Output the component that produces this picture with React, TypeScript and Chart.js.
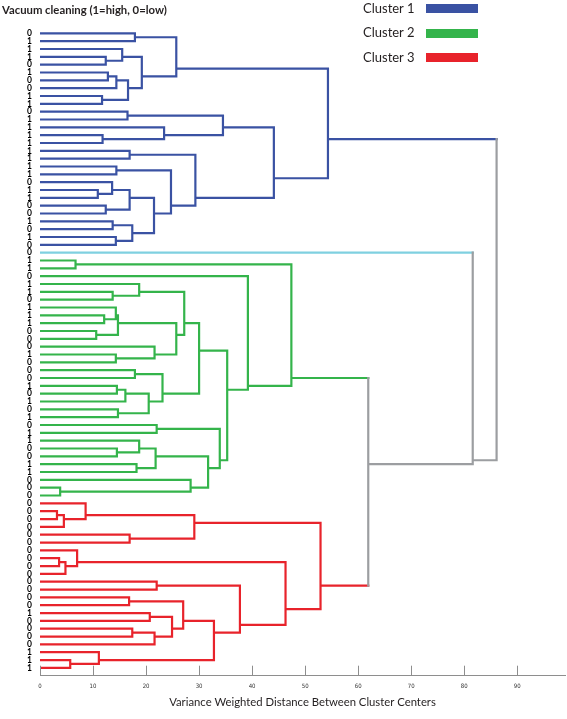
import React, { useEffect, useRef } from 'react';
import { Chart, registerables } from 'chart.js';

Chart.register(...registerables);

// ---------- data ----------
const chartTitle = 'Vacuum cleaning (1=high, 0=low)';
const xAxisTitle = 'Variance Weighted Distance Between Cluster Centers';
const xTickValues = [0, 10, 20, 30, 40, 50, 60, 70, 80, 90];
const xMax = 99;

// leaf labels, top to bottom (82 observations)
const leafLabels = [
  '0', '1', '1', '1', '0', '1', '0', '0', '1', '1', '0', '1', '1', '1', '1', '1', '1', '1', '1', '0', '1', '1', '0', '0', '1', '0', '1', '0',
  '0', '1', '1', '0', '1', '1', '0', '1', '1', '1', '0', '0', '0', '1', '0', '0', '0', '1', '0', '1', '0', '1', '0', '1', '1', '0', '0', '1', '1', '0',
  '0', '0',
  '0', '0', '0', '0', '0', '0', '0', '0', '0', '0', '0', '0', '0', '0', '1', '0', '0', '0', '0', '1', '1', '1',
];

// leaf groups (colour of the branches)
const groupFirstLeaf = [1, 29, 30, 61];
const groupLastLeaf = [28, 29, 60, 82];
const groupColors = ['#3a52a3', '#7fd0e0', '#34b44b', '#e8232b'];
const linkColor = '#9c9ea1';

const legendLabels = ['Cluster 1', 'Cluster 2', 'Cluster 3'];
const legendColors = ['#3a52a3', '#34b44b', '#e8232b'];

type Ref = number | string;
type Merge = [string, Ref, Ref, number];

const cluster1Merges: Merge[] = [
  ['A1', 1, 2, 17.9],
  ['A2', 4, 5, 12.4],
  ['A3', 3, 'A2', 15.5],
  ['A4', 6, 7, 12.8],
  ['A5', 'A4', 8, 14.4],
  ['A6', 9, 10, 11.7],
  ['A7', 'A5', 'A6', 16.6],
  ['A8', 'A3', 'A7', 19.2],
  ['A9', 'A1', 'A8', 25.7],
  ['A10', 11, 12, 16.5],
  ['A11', 14, 15, 11.8],
  ['A12', 13, 'A11', 23.4],
  ['A13', 'A10', 'A12', 34.5],
  ['A14', 16, 17, 16.9],
  ['A15', 18, 19, 14.4],
  ['A16', 21, 22, 10.9],
  ['A17', 20, 'A16', 13.6],
  ['A18', 23, 24, 12.4],
  ['A19', 'A17', 'A18', 16.9],
  ['A20', 25, 26, 13.7],
  ['A21', 27, 28, 14.3],
  ['A22', 'A20', 'A21', 17.4],
  ['A23', 'A19', 'A22', 21.5],
  ['A24', 'A15', 'A23', 24.7],
  ['A25', 'A14', 'A24', 29.3],
  ['A26', 'A13', 'A25', 44.1],
  ['A27', 'A9', 'A26', 54.3],
];

const cluster2Merges: Merge[] = [
  ['B1', 30, 31, 6.7],
  ['B2', 34, 35, 13.7],
  ['B3', 33, 'B2', 18.7],
  ['B4', 37, 38, 12.1],
  ['B5', 36, 'B4', 14.3],
  ['B6', 39, 40, 10.6],
  ['B7', 'B5', 'B6', 14.7],
  ['B8', 42, 43, 14.3],
  ['B9', 41, 'B8', 21.6],
  ['B10', 'B7', 'B9', 25.7],
  ['B11', 'B3', 'B10', 27.2],
  ['B12', 44, 45, 17.9],
  ['B13', 46, 47, 14.5],
  ['B14', 'B13', 48, 16.1],
  ['B15', 49, 50, 14.7],
  ['B16', 'B14', 'B15', 20.5],
  ['B17', 'B12', 'B16', 23.1],
  ['B18', 'B11', 'B17', 30.0],
  ['B19', 51, 52, 22.0],
  ['B20', 54, 55, 14.5],
  ['B21', 53, 'B20', 18.7],
  ['B22', 56, 57, 18.2],
  ['B23', 'B21', 'B22', 21.8],
  ['B24', 59, 60, 3.8],
  ['B25', 58, 'B24', 28.4],
  ['B26', 'B23', 'B25', 31.7],
  ['B27', 'B19', 'B26', 33.9],
  ['B28', 'B18', 'B27', 35.3],
  ['B29', 32, 'B28', 39.2],
  ['B30', 'B1', 'B29', 47.4],
];

const cluster3Merges: Merge[] = [
  ['C1', 62, 63, 3.2],
  ['C2', 'C1', 64, 4.5],
  ['C3', 61, 'C2', 8.6],
  ['C4', 65, 66, 16.9],
  ['C5', 'C3', 'C4', 29.1],
  ['C6', 68, 69, 3.6],
  ['C7', 'C6', 70, 4.8],
  ['C8', 67, 'C7', 7.0],
  ['C9', 71, 72, 22.0],
  ['C10', 73, 74, 16.8],
  ['C11', 75, 76, 20.7],
  ['C12', 77, 78, 17.4],
  ['C13', 'C12', 79, 21.6],
  ['C14', 'C11', 'C13', 24.9],
  ['C15', 'C10', 'C14', 27.0],
  ['C16', 81, 82, 5.7],
  ['C17', 80, 'C16', 11.1],
  ['C18', 'C15', 'C17', 32.8],
  ['C19', 'C9', 'C18', 37.7],
  ['C20', 'C8', 'C19', 46.3],
  ['C21', 'C5', 'C20', 52.9],
];

const topMerges: Merge[] = [
  ['T1', 'B30', 'C21', 61.9],
  ['T2', 29, 'T1', 81.6],
  ['T3', 'A27', 'T2', 86.1],
];

// ---------- tree geometry ----------
type NodeInfo = { h: number; leaves: number[]; y: number; color: string };

function leafColor(i: number): string {
  for (let g = 0; g < groupFirstLeaf.length; g++) {
    if (i >= groupFirstLeaf[g] && i <= groupLastLeaf[g]) return groupColors[g];
  }
  return linkColor;
}

function buildSegments() {
  const nodes: Record<string, NodeInfo> = {};
  const get = (r: Ref): NodeInfo => {
    if (typeof r === 'number') return { h: 0, leaves: [r], y: r, color: leafColor(r) };
    return nodes[r];
  };
  const pieces: { color: string; pts: { x: number; y: number }[] }[] = [];
  const all = [...cluster1Merges, ...cluster2Merges, ...cluster3Merges, ...topMerges];
  for (const [name, ra, rb, h] of all) {
    const a = get(ra);
    const b = get(rb);
    const leaves = [...a.leaves, ...b.leaves];
    const y = leaves.reduce((s, v) => s + v, 0) / leaves.length;
    const cols = new Set(leaves.map(leafColor));
    const color = cols.size === 1 ? leafColor(leaves[0]) : linkColor;
    nodes[name] = { h, leaves, y, color };
    const pA = [{ x: a.h, y: a.y }, { x: h, y: a.y }];
    const pV = [{ x: h, y: a.y }, { x: h, y: b.y }];
    const pB = [{ x: h, y: b.y }, { x: b.h, y: b.y }];
    if (a.color === color && b.color === color) {
      pieces.push({ color, pts: [pA[0], pA[1], pB[0], pB[1]] });
    } else {
      pieces.push({ color: a.color, pts: pA });
      pieces.push({ color: b.color, pts: pB });
      pieces.push({ color, pts: pV });
    }
  }
  return pieces;
}

const tickMarks = {
  id: 'upTicks',
  afterDatasetsDraw(chart: any) {
    const sx = chart.scales.x;
    const ctx = chart.ctx;
    ctx.save();
    ctx.strokeStyle = '#8e8e8e';
    ctx.lineWidth = 1;
    sx.ticks.forEach((t: any) => {
      const px = Math.round(sx.getPixelForValue(t.value)) + 0.5;
      ctx.beginPath();
      ctx.moveTo(px, sx.top);
      ctx.lineTo(px, sx.top - 10);
      ctx.stroke();
    });
    ctx.restore();
  },
};

export default function App() {
  const ref = useRef<HTMLCanvasElement | null>(null);

  useEffect(() => {
    if (!ref.current) return;
    const pieces = buildSegments();
    const colorOrder = [linkColor, ...groupColors];
    const datasets = colorOrder.map((c) => {
      const data: { x: number; y: number | null }[] = [];
      pieces
        .filter((p) => p.color === c)
        .forEach((p) => {
          p.pts.forEach((pt) => data.push(pt));
          data.push({ x: p.pts[0].x, y: null });
        });
      return {
        type: 'line' as const,
        data,
        borderColor: c,
        backgroundColor: c,
        borderWidth: 2.2,
        pointRadius: 0,
        tension: 0,
        spanGaps: false,
        fill: false,
        borderCapStyle: 'square' as const,
        borderJoinStyle: 'miter' as const,
      };
    });

    const chart = new Chart(ref.current, {
      type: 'line',
      data: { datasets: datasets as any },
      options: {
        animation: false,
        responsive: false,
        events: [],
        layout: { padding: { top: 25.5, left: 0, right: 2, bottom: 0 } },
        plugins: { legend: { display: false }, title: { display: false }, tooltip: { enabled: false } },
        scales: {
          x: {
            type: 'linear',
            min: 0,
            max: xMax,
            afterBuildTicks: (s: any) => {
              s.ticks = xTickValues.map((v) => ({ value: v }));
            },
            afterFit: (s: any) => {
              s.height = 43.3;
            },
            ticks: {
              autoSkip: false,
              maxRotation: 0,
              padding: 7,
              color: '#333',
              font: { family: 'DejaVu Sans Condensed', size: 6 },
            },
            grid: { display: false, drawTicks: false },
            border: { display: true, color: '#8e8e8e', width: 1 },
            title: {
              display: true,
              text: xAxisTitle,
              color: '#231f20',
              font: { family: 'Lato', size: 11.3, weight: 'normal' },
              padding: { top: 0, bottom: 10 },
            },
          },
          y: {
            type: 'linear',
            reverse: true,
            min: 0,
            max: 83,
            afterBuildTicks: (s: any) => {
              s.ticks = leafLabels.map((_, i) => ({ value: i + 1 }));
            },
            afterFit: (s: any) => {
              s.width = 40;
            },
            ticks: {
              autoSkip: false,
              padding: 8,
              color: '#000',
              font: { family: 'Lato', size: 8.5, weight: 'bold' },
              callback: (v: any) => leafLabels[Math.round(Number(v)) - 1] ?? '',
            },
            grid: { display: false, drawTicks: false },
            border: { display: false },
          },
        },
      },
      plugins: [tickMarks],
    });
    return () => chart.destroy();
  }, []);

  return (
    <div style={{ position: 'absolute', left: 0, top: 0, width: 567, height: 719, background: '#fff' }}>
      <canvas ref={ref} width={567} height={719} style={{ display: 'block', width: 567, height: 719 }} />
      <div
        style={{
          position: 'absolute',
          left: 2,
          top: 3,
          fontFamily: 'Lato',
          fontWeight: 700,
          fontSize: 11.3,
          lineHeight: '14px',
          color: '#231f20',
          whiteSpace: 'nowrap',
        }}
      >
        {chartTitle}
      </div>
      {legendLabels.map((lab, i) => (
        <div key={lab} style={{ position: 'absolute', left: 363, top: 0 + i * 24.3, height: 16, width: 120 }}>
          <span
            style={{
              position: 'absolute',
              left: 0,
              top: 0,
              fontFamily: 'Lato',
              fontSize: 13,
              lineHeight: '16px',
              color: '#231f20',
              whiteSpace: 'nowrap',
            }}
          >
            {lab}
          </span>
          <span
            style={{
              position: 'absolute',
              left: 62.7,
              top: 4.3,
              width: 52.6,
              height: 9,
              background: legendColors[i],
            }}
          />
        </div>
      ))}
    </div>
  );
}
